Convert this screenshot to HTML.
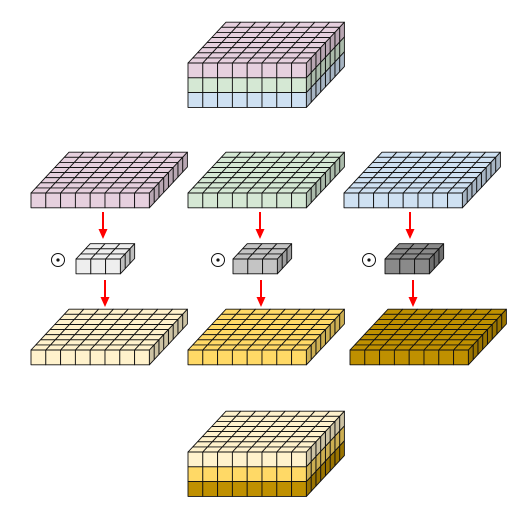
<!DOCTYPE html>
<html><head><meta charset="utf-8"><style>
html,body{margin:0;padding:0;background:#fff;}
svg{display:block}
</style></head><body>
<svg id="c" width="519" height="506" viewBox="0 0 519 506" xmlns="http://www.w3.org/2000/svg"></svg>
<script>
const blockNames = ['input-tensor','input-channel-1','input-channel-2','input-channel-3','kernel-1','kernel-2','kernel-3','output-channel-1','output-channel-2','output-channel-3','output-tensor'];
const blockX = [188,31,188,344,76,233,385,31,188,350,188];
const blockY = [63,193,193,193,259,259,259,350,350,350,452];
const blockNx = [8,8,8,8,3,3,3,8,8,8,8];
const blockColors = [
 ['#e6d0de','#d5e8d4','#cfe1f2'],
 ['#e6d0de'],['#d5e8d4'],['#cfe1f2'],
 ['#eeeeee'],['#c4c4c4'],['#8a8a8a'],
 ['#fff2cc'],['#ffd966'],['#bf9000'],
 ['#fff2cc','#ffd966','#bf9000']
];
const svg = document.getElementById('c');
const NS = 'http://www.w3.org/2000/svg';
const CW = 14.8, CH = 14.8, DX = 4.75, DY = -5.1;
function poly(g, pts, fill, name){
  const p = document.createElementNS(NS,'polygon');
  p.setAttribute('points', pts.map(q=>q[0].toFixed(2)+','+q[1].toFixed(2)).join(' '));
  p.setAttribute('fill', fill);
  p.setAttribute('stroke', '#111');
  p.setAttribute('stroke-width', '0.9');
  p.setAttribute('stroke-linejoin','round');
  
  
  g.appendChild(p);
}
function shade(hex, f){
  const n = parseInt(hex.slice(1),16);
  const r=Math.round(((n>>16)&255)*f), g=Math.round(((n>>8)&255)*f), b=Math.round((n&255)*f);
  return 'rgb('+r+','+g+','+b+')';
}
for (let b=0;b<blockNames.length;b++){
  const g = document.createElementNS(NS,'g');
  
  
  svg.appendChild(g);
  const x0=blockX[b], y0=blockY[b], nx=blockNx[b], nd=nx, cols=blockColors[b];
  // top face
  for (let j=nd-1;j>=0;j--) for (let i=0;i<nx;i++){
    const x=x0+i*CW+j*DX, y=y0+j*DY;
    poly(g,[[x,y],[x+CW,y],[x+CW+DX,y+DY],[x+DX,y+DY]],cols[0],'top-cell');
  }
  // front and right faces
  for (let k=0;k<cols.length;k++){
    for (let i=0;i<nx;i++){
      const x=x0+i*CW, y=y0+k*CH;
      poly(g,[[x,y],[x+CW,y],[x+CW,y+CH],[x,y+CH]],cols[k],'front-cell');
    }
    for (let j=nd-1;j>=0;j--){
      const x=x0+nx*CW+j*DX, y=y0+k*CH+j*DY;
      poly(g,[[x,y],[x+DX,y+DY],[x+DX,y+DY+CH],[x,y+CH]],shade(cols[k],0.8),'side-cell');
    }
  }
}
// arrows
const arrowX = [103,260,410,105,261,413];
const arrowY0 = [212,212,212,280,280,280];
for (let a=0;a<arrowX.length;a++){
  const g = document.createElementNS(NS,'g');
  
  
  const l = document.createElementNS(NS,'line');
  l.setAttribute('x1',arrowX[a]); l.setAttribute('x2',arrowX[a]);
  l.setAttribute('y1',arrowY0[a]); l.setAttribute('y2',arrowY0[a]+18);
  l.setAttribute('stroke','#f00'); l.setAttribute('stroke-width','2');
  
  
  g.appendChild(l);
  const h = document.createElementNS(NS,'polygon');
  const x=arrowX[a], y=arrowY0[a]+27;
  h.setAttribute('points',(x-4.5)+','+(y-10)+' '+(x+4.5)+','+(y-10)+' '+x+','+y);
  h.setAttribute('fill','#f00');
  
  
  g.appendChild(h);
  svg.appendChild(g);
}
// odot symbols
const odotX = [58,218,369];
for (const ox of odotX){
  const g = document.createElementNS(NS,'g');
  
  
  const c = document.createElementNS(NS,'circle');
  c.setAttribute('cx',ox); c.setAttribute('cy',260); c.setAttribute('r',6.5);
  c.setAttribute('fill','#fff'); c.setAttribute('stroke','#111'); c.setAttribute('stroke-width','1');
  
  
  g.appendChild(c);
  const d = document.createElementNS(NS,'circle');
  d.setAttribute('cx',ox); d.setAttribute('cy',260); d.setAttribute('r',1.6);
  d.setAttribute('fill','#111');
  
  
  g.appendChild(d);
  svg.appendChild(g);
}
</script>
</body></html>
